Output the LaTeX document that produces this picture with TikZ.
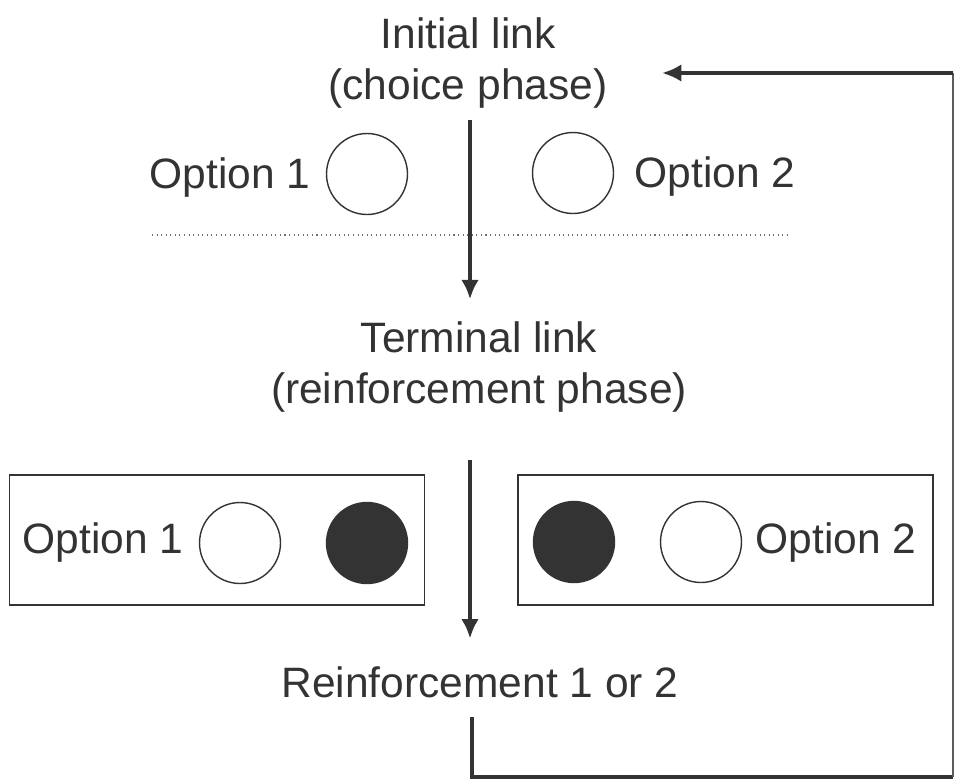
\documentclass[tikz,border=0pt]{standalone}
\usepackage{fontspec}
\setmainfont{Liberation Sans}
\usetikzlibrary{arrows.meta,positioning}
\definecolor{ink}{HTML}{333333}
\tikzset{
  phase/.style={align=center, inner sep=0pt, text=ink},
  option/.style={inner sep=0pt, text=ink},
  key/.style={circle, draw=ink, line width=.8pt, minimum size=1.62cm, inner sep=0pt},
  keyon/.style={key, fill=ink},
  panel/.style={draw=ink, line width=.9pt, minimum width=8.3cm, minimum height=2.6cm, inner sep=0pt},
  flow/.style={draw=ink, line width=2.6pt, -{Latex[length=11pt, width=10pt]}},
  back/.style={draw=ink, line width=2.4pt}
}
\begin{document}
\begin{tikzpicture}[x=.02cm, y=-.02cm, font=\fontsize{24.2}{28.5}\selectfont]
  \useasboundingbox (0, 0) rectangle (960, 782);
  % choice phase
  \node[phase] (init) at (468, 63) {Initial link\\(choice phase)};
  \node[key] (c1) at (367, 174) {};
  \node[key] (c2) at (573, 173) {};
  \node[option, left=.3cm of c1, yshift=-2pt] (o1) {Option 1};
  \node[option, right=.4cm of c2, yshift=-2pt] (o2) {Option 2};
  \draw[ink!70, line width=.6pt, dotted] (152, 235) -- (787, 235);
  % reinforcement phase
  \node[phase] (term) at (479, 367) {Terminal link\\(reinforcement phase)};
  \node[panel] (p1) at (217, 540) {};
  \node[panel] (p2) at (725.5, 540) {};
  \node[option] (q1) at (103, 542) {Option 1};
  \node[key] (w1) at (240, 543) {};
  \node[keyon] (b1) at (367, 543) {};
  \node[keyon] (b2) at (574, 542) {};
  \node[key] (w2) at (701, 542) {};
  \node[option] (q2) at (836, 542) {Option 2};
  \node[phase] (reinf) at (480, 682) {Reinforcement 1 or 2};
  \coordinate (axis) at (470, 0);
  \coordinate (down) at (472, 717);
  \coordinate (corner) at (953, 777);
  \coordinate (entry) at (662, 73);
  % arrows
  \draw[flow, shorten <=.24cm, shorten >=.45cm] (init.south -| axis) -- (term.north -| axis);
  \draw[flow, shorten <=.95cm, shorten >=.55cm] (term.south -| axis) -- (reinf.north -| axis);
  \draw[back] (down) |- (corner);
  \draw[ink!80, line width=1pt] (corner) -- (corner |- entry);
  \draw[flow, line width=2.2pt] (corner |- entry) -- (entry);
\end{tikzpicture}
\end{document}
